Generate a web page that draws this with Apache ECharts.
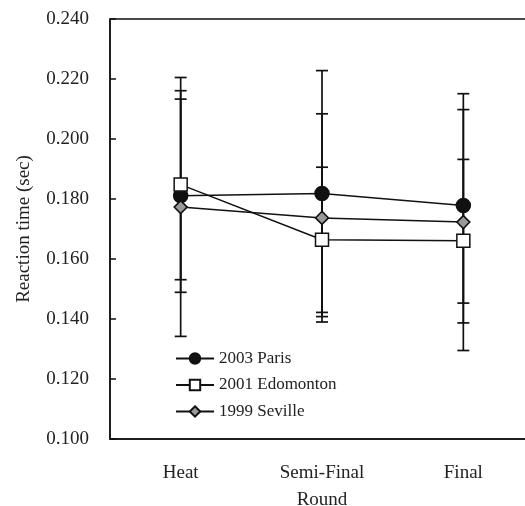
<!doctype html>
<html lang="en">
<head>
    <meta charset="UTF-8">
    <title>Reaction time by round</title>
    <script src="https://cdn.jsdelivr.net/npm/echarts@6/dist/echarts.min.js"></script>
    <style>
        html, body { margin: 0; padding: 0; background: #fff; }
        #chart { width: 525px; height: 506px; }
    </style>
</head>
<body>
<div id="chart"></div>
<script>
    // 数据：均值与误差线上下端
    const rounds = ['Heat', 'Semi-Final', 'Final']
    const yTicks = [0.100, 0.120, 0.140, 0.160, 0.180, 0.200, 0.220, 0.240]

    const parisMean = [0.1811, 0.1818, 0.1778]
    const parisHigh = [0.2133, 0.2228, 0.2098]
    const parisLow = [0.1489, 0.1408, 0.1453]

    const edmMean = [0.1848, 0.1664, 0.1661]
    const edmHigh = [0.2161, 0.1906, 0.1932]
    const edmLow = [0.1531, 0.1422, 0.1387]

    const sevMean = [0.1773, 0.1737, 0.1723]
    const sevHigh = [0.2205, 0.2084, 0.2151]
    const sevLow = [0.1342, 0.1390, 0.1295]

    const font = 'Liberation Serif'
    const chart = echarts.init(document.getElementById('chart'))

    // 误差线 custom series
    function errorSeries(high, low) {
        return {
            type: 'custom',
            z: 1,
            silent: true,
            data: rounds.map((r, i) => [i, low[i], high[i]]),
            renderItem: function (params, api) {
                const lo = api.coord([api.value(0), api.value(1)])
                const hi = api.coord([api.value(0), api.value(2)])
                const w = 6
                const style = {stroke: '#111', lineWidth: 1.7}
                return {
                    type: 'group',
                    children: [
                        {type: 'line', shape: {x1: hi[0], y1: hi[1], x2: lo[0], y2: lo[1]}, style: style},
                        {type: 'line', shape: {x1: hi[0] - w, y1: hi[1], x2: hi[0] + w, y2: hi[1]}, style: style},
                        {type: 'line', shape: {x1: lo[0] - w, y1: lo[1], x2: lo[0] + w, y2: lo[1]}, style: style}
                    ]
                }
            }
        }
    }

    function lineSeries(name, data, symbol, size, fill) {
        return {
            name: name,
            type: 'line',
            z: 3,
            data: data,
            symbol: symbol,
            symbolSize: size,
            showAllSymbol: true,
            lineStyle: {color: '#111', width: 1.5},
            itemStyle: {color: fill, borderColor: '#111', borderWidth: 1.5}
        }
    }

    const option = {
        animation: false,
        backgroundColor: '#fff',
        textStyle: {fontFamily: font, color: '#222'},
        grid: {
            left: 110, top: 19, bottom: 67, right: -9,
            outerBoundsMode: 'none',
            containLabel: false,
            show: true, borderColor: '#111', borderWidth: 1.5
        },
        legend: {
            orient: 'vertical',
            left: 175,
            top: 350,
            padding: 0,
            itemWidth: 38,
            itemHeight: 13,
            itemGap: 9.5,
            textStyle: {fontFamily: font, fontSize: 17, color: '#222'},
            data: ['2003 Paris', '2001 Edomonton', '1999 Seville']
        },
        xAxis: {
            type: 'category',
            data: rounds,
            name: 'Round',
            nameLocation: 'middle',
            nameGap: 52,
            nameTextStyle: {fontFamily: font, fontSize: 19, color: '#222'},
            axisLine: {lineStyle: {color: '#111', width: 1.5}},
            axisTick: {inside: true, length: 6, interval: 0, lineStyle: {color: '#111', width: 1.5}},
            axisLabel: {fontFamily: font, fontSize: 19, color: '#222', margin: 25}
        },
        yAxis: {
            type: 'value',
            min: yTicks[0],
            max: yTicks[yTicks.length - 1],
            interval: 0.02,
            name: 'Reaction time (sec)',
            nameLocation: 'middle',
            nameGap: 76,
            nameTextStyle: {fontFamily: font, fontSize: 19, color: '#222'},
            splitLine: {show: false},
            axisLine: {show: true, lineStyle: {color: '#111', width: 1.5}},
            axisTick: {show: true, inside: true, length: 6, lineStyle: {color: '#111', width: 1.5}},
            axisLabel: {
                fontFamily: font, fontSize: 19, color: '#222', margin: 21,
                formatter: v => v.toFixed(3)
            }
        },
        series: [
            errorSeries(parisHigh, parisLow),
            errorSeries(edmHigh, edmLow),
            errorSeries(sevHigh, sevLow),
            lineSeries('2003 Paris', parisMean, 'circle', 14, '#111'),
            lineSeries('2001 Edomonton', edmMean, 'rect', 13, '#fff'),
            lineSeries('1999 Seville', sevMean, 'diamond', 13, '#999')
        ]
    }
    chart.setOption(option)
</script>
</body>
</html>
